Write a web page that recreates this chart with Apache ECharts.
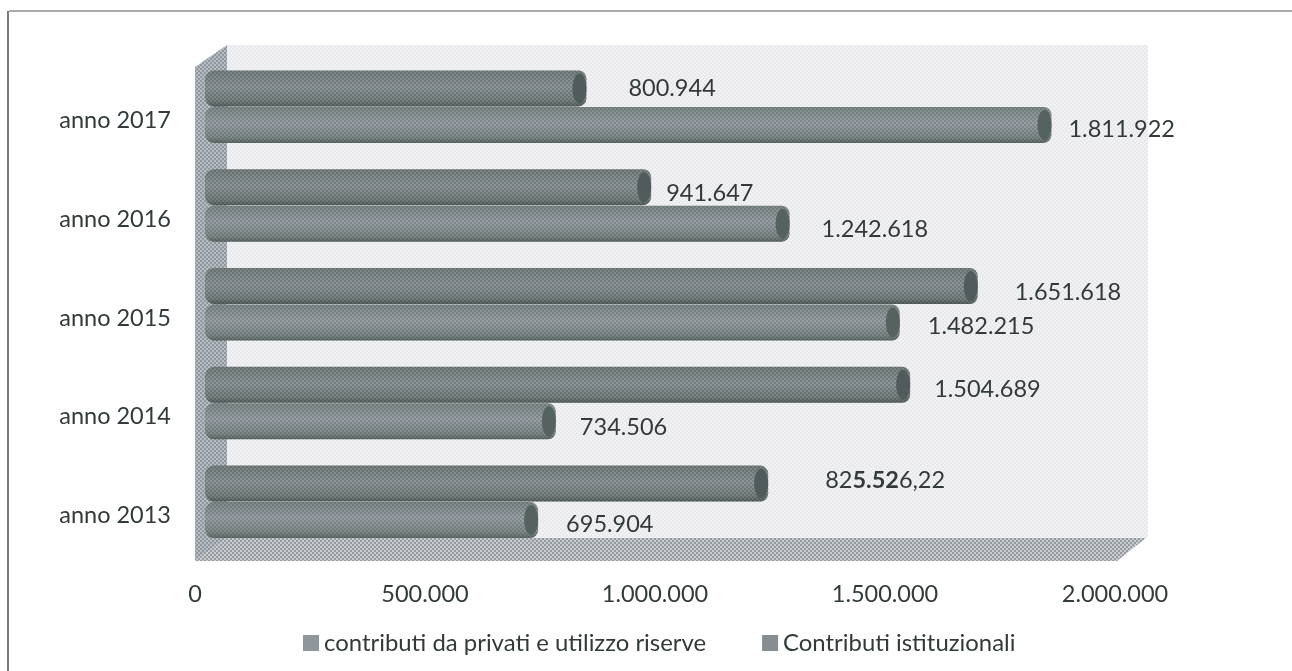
<!DOCTYPE html>
<html>
<head>
<meta charset="utf-8">
<title>Contributi</title>
<style>
  html, body { margin: 0; padding: 0; background: #fff; }
  #main { width: 1292px; height: 671px; }
</style>
<script src="https://cdn.jsdelivr.net/npm/echarts@6/dist/echarts.min.js"></script>
</head>
<body>
<div id="main"></div>
<script>
var categories = ['anno 2013', 'anno 2014', 'anno 2015', 'anno 2016', 'anno 2017'];
var privati = [695904, 734506, 1482215, 1242618, 1811922];
var istituzionali = [1196000, 1504689, 1651618, 941647, 800944]; // 2013: bar is longer than its printed label
var privatiLabels = ['695.904', '734.506', '1.482.215', '1.242.618', '1.811.922'];
var istituzionaliLabels = ['82{b|5.52}6,22', '1.504.689', '1.651.618', '941.647', '800.944'];

// the source labels were hand placed, so each one gets its own nudge from the bar end
var privatiNudge = [[28, 4], [24, 6], [28, 4], [32, 6], [17, 5]];
var istituzionaliNudge = [[57, -3], [24, 5], [37, 6], [15, 6], [42, 0]];

var FONT = 'Lato, Carlito, sans-serif';
var FONT_SIZE = 23.5;
var TEXT = '#333a3a';
var DX = 23;   // depth shift of the bars from the front axis
var DY = -13.5;
var BAR_H = 36;

// halftone look of the scanned page
function dither(base, dot) {
  var c = document.createElement('canvas');
  c.width = 4;
  c.height = 4;
  var ctx = c.getContext('2d');
  ctx.fillStyle = base;
  ctx.fillRect(0, 0, 4, 4);
  ctx.fillStyle = dot;
  ctx.fillRect(0, 0, 2, 2);
  ctx.fillRect(2, 2, 2, 2);
  return { image: c, repeat: 'repeat' };
}
var dotsLight = dither('rgba(255,255,255,0.10)', 'rgba(30,40,40,0.18)');
var dotsDark = dither('rgba(255,255,255,0.08)', 'rgba(20,30,30,0.20)');

function barSeries(name, values, labels, nudge, offset, top, mid, bottom, dots, cap, z) {
  return {
    name: name,
    type: 'custom',
    z: z,
    clip: false,
    itemStyle: { color: mid },
    encode: { x: 0, y: 1 },
    data: values.map(function (v, i) { return [v, i]; }),
    renderItem: function (params, api) {
      var i = api.value(1);
      var start = api.coord([0, i]);
      var end = api.coord([api.value(0), i]);
      var left = start[0] + 10;
      var right = end[0] + DX;
      var cy = start[1] + DY + offset;
      var y = cy - BAR_H / 2;
      var fill = new echarts.graphic.LinearGradient(0, 0, 0, 1, [
        { offset: 0, color: top },
        { offset: 0.45, color: mid },
        { offset: 0.85, color: top },
        { offset: 1, color: bottom }
      ]);
      var rectShape = { x: left, y: y, width: right - left, height: BAR_H, r: [9, 8, 8, 9] };
      return {
        type: 'group',
        children: [
          { type: 'rect', shape: rectShape, style: { fill: fill } },
          { type: 'rect', shape: rectShape, style: { fill: dots } },
          { type: 'ellipse', shape: { cx: right - 7, cy: cy, rx: 7, ry: BAR_H / 2 - 3 }, style: { fill: cap } },
          {
            type: 'text',
            x: right + nudge[i][0],
            y: cy + nudge[i][1],
            style: {
              text: labels[i],
              fill: TEXT,
              font: FONT_SIZE + 'px ' + FONT,
              verticalAlign: 'middle',
              rich: { b: { fontWeight: 'bold', fontSize: FONT_SIZE, fontFamily: FONT, fill: TEXT } }
            }
          }
        ]
      };
    }
  };
}

var myChart = echarts.init(document.getElementById('main'));
myChart.setOption({
  animation: false,
  backgroundColor: '#fff',
  textStyle: { fontFamily: FONT },
  grid: { left: 195, top: 71, width: 920, height: 494 },
  xAxis: {
    type: 'value',
    min: 0,
    max: 2000000,
    interval: 500000,
    axisLine: { show: false },
    axisTick: { show: false },
    splitLine: { show: false },
    axisLabel: {
      color: TEXT,
      fontSize: FONT_SIZE,
      fontFamily: FONT,
      margin: 17,
      formatter: function (val) {
        return String(val).replace(/\B(?=(\d{3})+$)/g, '.');
      }
    }
  },
  yAxis: {
    type: 'category',
    data: categories,
    axisLine: { show: false },
    axisTick: { show: false },
    axisLabel: { color: TEXT, fontSize: FONT_SIZE, fontFamily: FONT, margin: 24 }
  },
  legend: {
    left: 303,
    top: 631,
    itemWidth: 16,
    itemHeight: 16,
    itemGap: 56,
    icon: 'rect',
    padding: 0,
    textStyle: { color: TEXT, fontSize: 23.9, fontFamily: FONT },
    data: ['contributi da privati e utilizzo riserve', 'Contributi istituzionali']
  },
  graphic: [
    // scanned frame, only top and left sides survive
    { type: 'line', z: 0, shape: { x1: 9, y1: 11, x2: 1292, y2: 11 }, style: { stroke: '#8c8f8f', lineWidth: 1.5 } },
    { type: 'line', z: 0, shape: { x1: 8, y1: 11, x2: 8, y2: 671 }, style: { stroke: '#77797a', lineWidth: 2 } },
    // back wall, side wall, floor
    { type: 'rect', z: 0, shape: { x: 227, y: 45, width: 921, height: 493 }, style: { fill: dither('#f2f2f5', '#e8e9ec') } },
    { type: 'polygon', z: 1, shape: { points: [[195, 67], [227, 45], [227, 538], [195, 561]] }, style: { fill: dither('#b8bcc3', '#8f979e') } },
    { type: 'polygon', z: 1, shape: { points: [[195, 561], [227, 538], [1146, 538], [1117, 561]] }, style: { fill: dither('#c8cbd0', '#969ba0') } }
  ],
  series: [
    barSeries('Contributi istituzionali', istituzionali, istituzionaliLabels, istituzionaliNudge, -18.5,
      '#6c7775', '#868e92', '#485351', dotsDark, '#505c5c', 3),
    barSeries('contributi da privati e utilizzo riserve', privati, privatiLabels, privatiNudge, 18,
      '#6f7b7a', '#8f969c', '#4c5856', dotsLight, '#56625f', 4)
  ]
});
</script>
</body>
</html>
